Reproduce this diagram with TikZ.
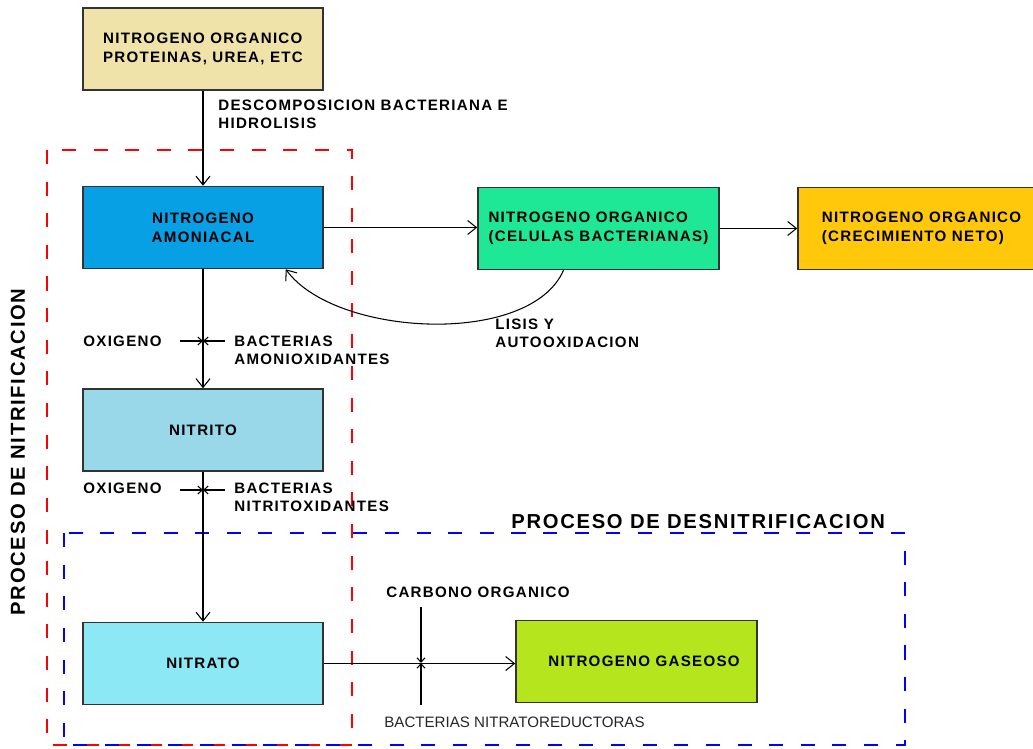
\documentclass[tikz,border=0pt]{standalone}
\usepackage{fontspec}
\setmainfont{Liberation Sans}[LetterSpace=8.5]
\newfontfamily\plainfont{Liberation Sans}
\usetikzlibrary{arrows.meta, positioning}
\definecolor{orgbeige}{RGB}{240,227,169}
\definecolor{amonblue}{RGB}{8,160,228}
\definecolor{celgreen}{RGB}{30,232,150}
\definecolor{netorange}{RGB}{255,200,10}
\definecolor{nitritoblue}{RGB}{152,216,232}
\definecolor{nitratocyan}{RGB}{140,232,244}
\definecolor{gaslime}{RGB}{181,230,29}
\tikzset{
  procbox/.style={
    rectangle, minimum width=4.8cm, minimum height=1.64cm,
    align=center, font=\fontsize{8.6}{10.8}\selectfont\bfseries,
    draw=black!80, line width=0.9pt, fill=#1
  },
  flowarrow/.style={-{Straight Barb[length=5pt,width=8pt]}, line width=0.6pt},
  tickarrow/.style={-{Straight Barb[length=2.5pt,width=4.5pt]}, line width=0.6pt},
  steplabel/.style={
    anchor=west, inner sep=0pt, align=left,
    font=\fontsize{8.6}{10.2}\selectfont\bfseries
  },
  zonelabel/.style={inner sep=0pt, font=\fontsize{11.5}{14}\selectfont\bfseries},
  zonebox/.style={dash pattern=on 8pt off 10pt, line width=0.8pt, draw=#1},
}
\begin{document}
\begin{tikzpicture}[x=0.02cm, y=-0.02cm]
      \useasboundingbox (0,0) rectangle (1033,749);
      % zonas
      \draw[zonebox=red] (47,150) rectangle (352,745);
      \draw[zonebox=blue] (64,533) rectangle (905,745);
      \node[zonelabel, rotate=90](z0)at(18,452) {PROCESO DE NITRIFICACION};
      \node[zonelabel, anchor=west](z1)at(511,522) {PROCESO DE DESNITRIFICACION};
      % cajas
      \node[procbox=orgbeige, align=left](n0)at(203,49) {NITROGENO ORGANICO\\PROTEINAS, UREA, ETC};
      \node[procbox=amonblue](n1)at(203,227.5) {NITROGENO\\AMONIACAL};
      \node[procbox=celgreen, align=left, minimum width=4.82cm](n2)at(598.5,228.5) {NITROGENO ORGANICO\\(CELULAS BACTERIANAS)};
      \node[procbox=netorange, align=left, minimum width=4.74cm](n3)at(916.5,228.5) {\hspace{0.2cm}NITROGENO ORGANICO\\\hspace{0.2cm}(CRECIMIENTO NETO)};
      \node[procbox=nitritoblue](n4)at(203,430) {NITRITO};
      \node[procbox=nitratocyan](n5)at(203,663.5) {NITRATO};
      \node[procbox=gaslime, minimum width=4.82cm](n6)at(636.5,661.5) {\hspace{0.3cm}NITROGENO GASEOSO};
      % textos
      \node[steplabel](t0)at(218,114.5) {DESCOMPOSICION BACTERIANA E\\HIDROLISIS};
      \node[steplabel](t1)at(83,341) {OXIGENO};
      \node[steplabel](t2)at(234,350) {BACTERIAS\\AMONIOXIDANTES};
      \node[steplabel](t3)at(83,488) {OXIGENO};
      \node[steplabel](t4)at(234,497) {BACTERIAS\\NITRITOXIDANTES};
      \node[steplabel](t5)at(495,333.5) {LISIS Y\\AUTOOXIDACION};
      \node[steplabel](t6)at(386,592) {CARBONO ORGANICO};
      \node[steplabel, font=\plainfont\fontsize{8.6}{10}\selectfont, text=black!85](t7)at(384,722) {BACTERIAS NITRATOREDUCTORAS};
      % flechas
      \draw[flowarrow](n0.south)--(n1.north);
      \draw[flowarrow](n1.south)--(n4.north);
      \draw[flowarrow](n4.south)--(n5.north);
      \draw[flowarrow](n1.east)--(n1.east -| n2.west);
      \draw[flowarrow](n2.east)--(n2.east -| n3.west);
      \draw[flowarrow](n5.east)--(n5.east -| n6.west);
      \draw[flowarrow]([xshift=-0.7cm]n2.south) .. controls (530,347) and (335,337) .. ([xshift=-0.76cm]n1.south east);
      % aportes
      \coordinate (c1) at (203,341);
      \coordinate (c1l) at (180,341);
      \coordinate (c1r) at (225,341);
      \coordinate (c2) at (203,490);
      \coordinate (c2l) at (180,490);
      \coordinate (c2r) at (225,490);
      \coordinate (c3) at (421,663);
      \coordinate (c3t) at (421,607);
      \coordinate (c3b) at (421,705);
      \draw[tickarrow](c1l)--(c1);
      \draw[tickarrow](c1r)--(c1);
      \draw[tickarrow](c2l)--(c2);
      \draw[tickarrow](c2r)--(c2);
      \draw[tickarrow](c3t)--(c3);
      \draw[tickarrow](c3b)--(c3);
    \end{tikzpicture}
\end{document}
